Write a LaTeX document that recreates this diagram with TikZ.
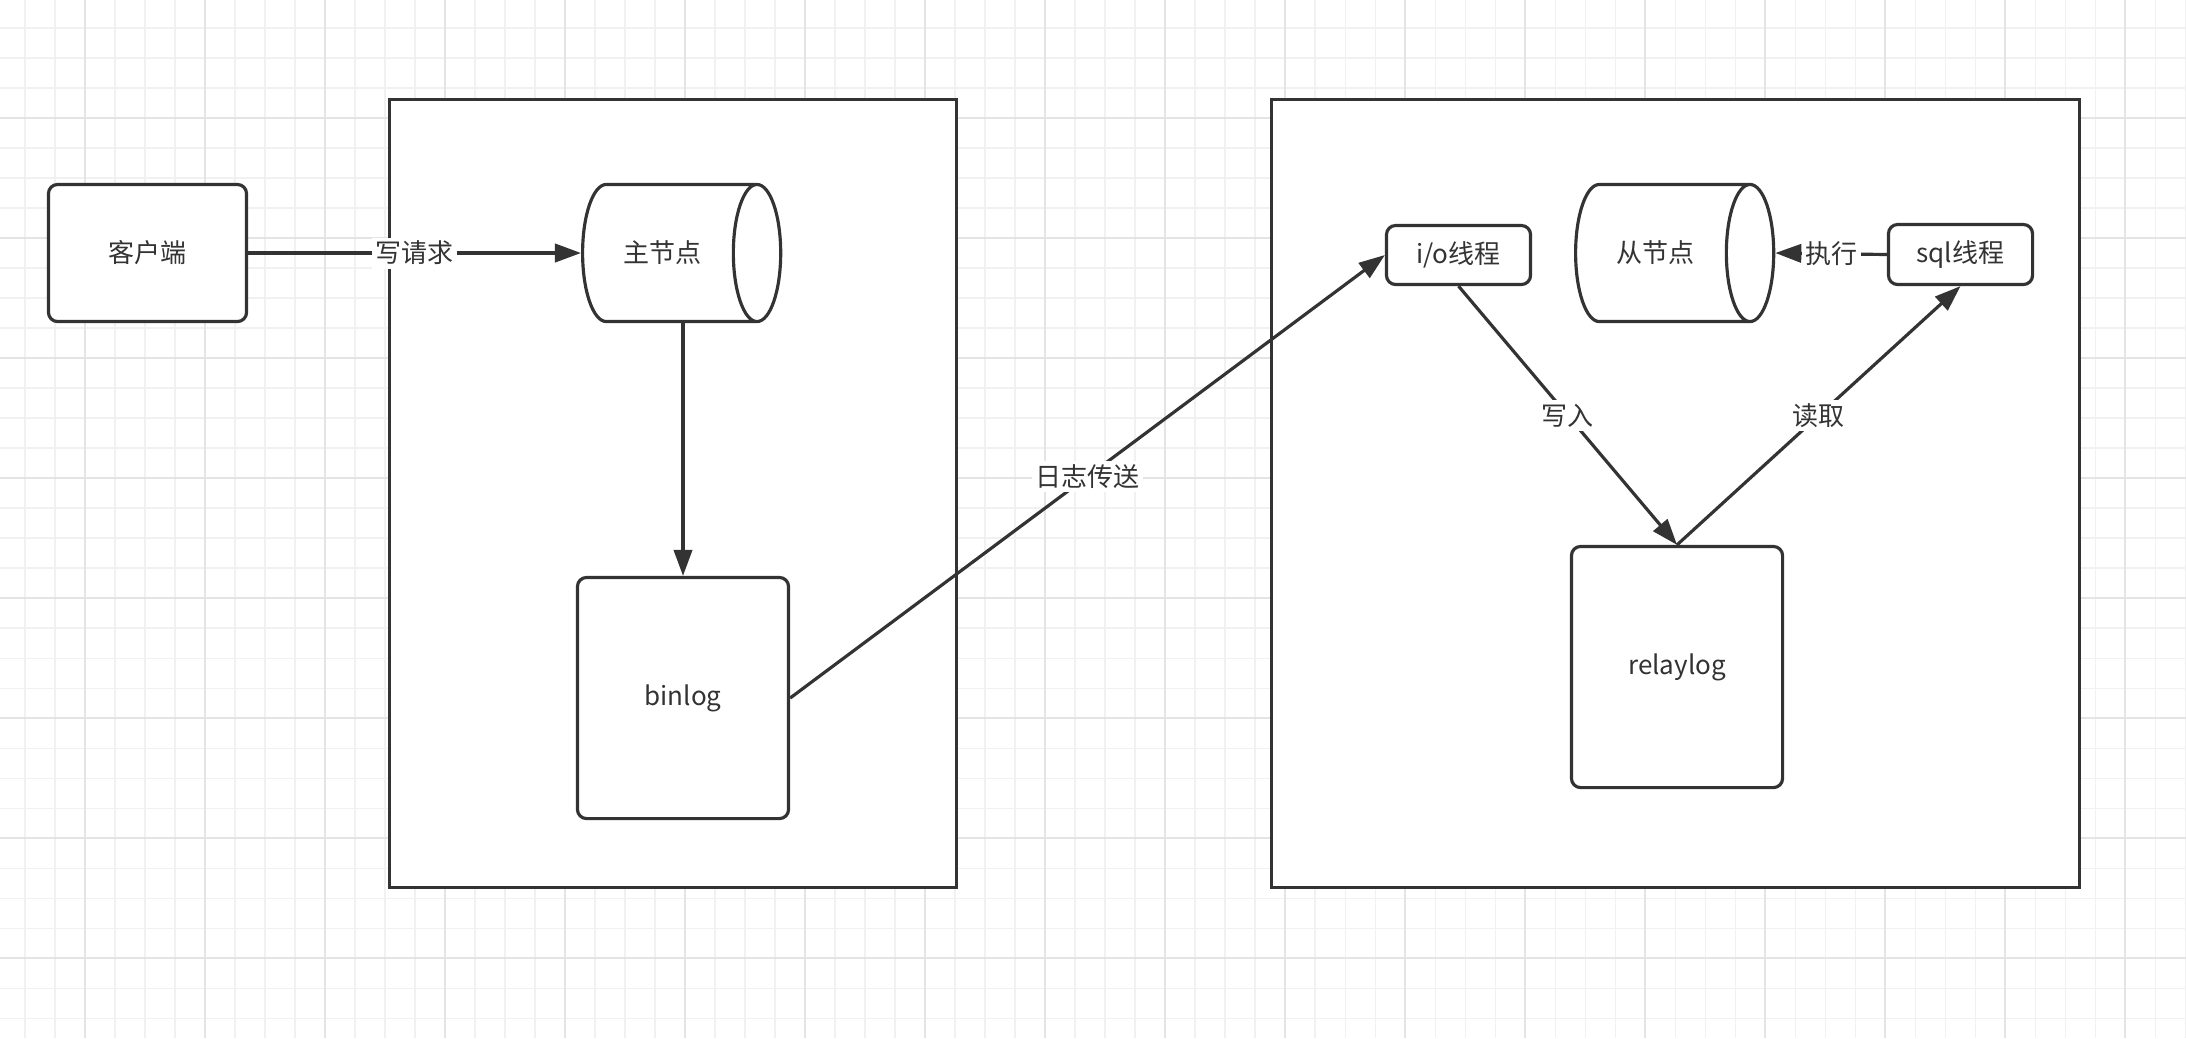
\documentclass[tikz,border=0pt]{standalone}
\usepackage{fontspec}
\setmainfont{Noto Sans CJK SC}
\usetikzlibrary{shapes.geometric,arrows.meta}

\definecolor{ink}{HTML}{333333}
\definecolor{gridminor}{HTML}{F1F1F1}
\definecolor{gridmajor}{HTML}{E4E4E4}

\begin{document}
\begin{tikzpicture}[x=0.01cm,y=-0.01cm,
    font=\fontsize{7.4pt}{9pt}\selectfont,
    every node/.style={text=ink},
    frame/.style={draw=ink,fill=white,line width=0.9pt},
    roundbox/.style={frame,rounded corners=2.6pt},
    store/.style={frame,cylinder,aspect=1.0,minimum width=1.37cm,minimum height=1.98cm,anchor=west},
    flow/.style={draw=ink,line width=0.9pt,-{Triangle[length=7.4pt,width=5.2pt]}},
    tag/.style={fill=white,inner sep=1pt}]
      \useasboundingbox (0,0) rectangle (2186,1038);
      \fill[white] (0,0) rectangle (2186,1038);

      \foreach \gx in {25,55,...,2185} {
        \draw[gridminor,line width=0.3pt] (\gx,0) -- (\gx,1038);
      }
      \foreach \gy in {28,58,...,1038} {
        \draw[gridminor,line width=0.3pt] (0,\gy) -- (2186,\gy);
      }
      \foreach \gx in {85,205,...,2185} {
        \draw[gridmajor,line width=0.4pt] (\gx,0) -- (\gx,1038);
      }
      \foreach \gy in {118,238,...,1038} {
        \draw[gridmajor,line width=0.4pt] (0,\gy) -- (2186,\gy);
      }

      \node[frame,minimum width=5.67cm,minimum height=7.88cm] (masterframe) at (673,493.5) {};
      \node[frame,minimum width=8.08cm,minimum height=7.88cm] (slaveframe) at (1675.5,493.5) {};

      \node[roundbox,minimum width=1.98cm,minimum height=1.37cm] (client) at (147.5,253) {客户端};
      \node[store] (master) at (581,253) {主节点};
      \node[roundbox,minimum width=2.11cm,minimum height=2.41cm] (binlog) at (683,698) {binlog};

      \node[roundbox,minimum width=1.44cm,minimum height=0.59cm] (iothread) at (1458.5,255) {i/o线程};
      \node[store] (slave) at (1574,253) {从节点};
      \node[roundbox,minimum width=1.44cm,minimum height=0.6cm] (sqlthread) at (1960.5,254.5) {sql线程};
      \node[roundbox,minimum width=2.11cm,minimum height=2.41cm] (relaylog) at (1677,667) {relaylog};

      \draw[flow] (client) -- node[tag] {写请求} (master);
      \draw[flow] (binlog.north |- master.south) -- (binlog.north);
      \draw[flow] (binlog.east) -- node[tag] {日志传送} (iothread.west);
      \draw[flow] (iothread.south) -- node[tag] {写入} (relaylog.north);
      \draw[flow] (relaylog.north) -- node[tag] {读取} (sqlthread.south);
      \draw[flow] (sqlthread.west) -- node[tag] {执行} (slave.east);
    \end{tikzpicture}
\end{document}
